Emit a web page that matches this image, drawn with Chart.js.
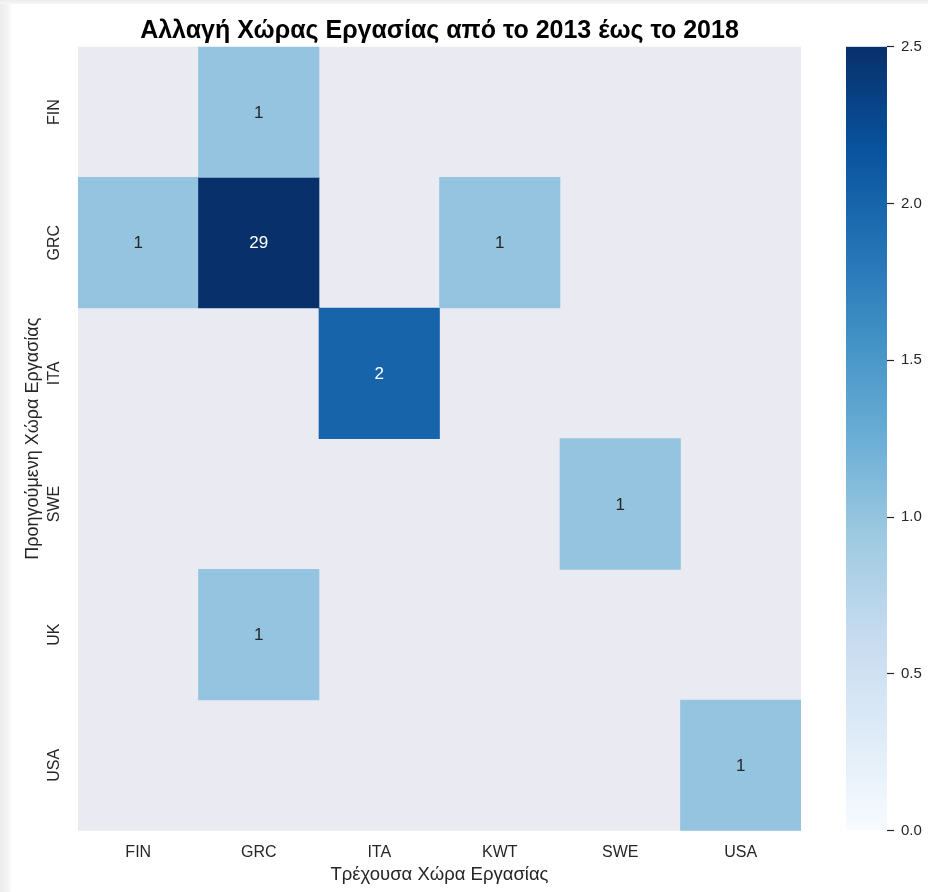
<!DOCTYPE html>
<html>
<head>
<meta charset="utf-8">
<script src="https://cdn.jsdelivr.net/npm/chart.js@4"></script>
<style>
  html, body { margin: 0; padding: 0; background: #ffffff; }
  #wrap { position: relative; width: 928px; height: 892px; overflow: hidden; background: #ffffff; }
  #main { position: absolute; left: 0; top: 0; }
  #cbar { position: absolute; left: 820px; top: 0; }
  #shadeL { position: absolute; left: 0; top: 0; width: 11px; height: 892px;
            background: linear-gradient(to right, #ececec, #f3f3f3 60%, #fbfbfb); }
  #shadeT { position: absolute; left: 0; top: 0; width: 928px; height: 4px;
            background: linear-gradient(to bottom, #ececec, #f7f7f7); }
</style>
</head>
<body>
<div id="wrap">
  <canvas id="main" width="928" height="892"></canvas>
  <canvas id="cbar" width="108" height="892"></canvas>
  <div id="shadeL"></div>
  <div id="shadeT"></div>
</div>
<script>
// ---- data ----
const titleText = 'Αλλαγή Χώρας Εργασίας από το 2013 έως το 2018';
const xTitle = 'Τρέχουσα Χώρα Εργασίας';
const yTitle = 'Προηγούμενη Χώρα Εργασίας';
const currentCountries = ['FIN', 'GRC', 'ITA', 'KWT', 'SWE', 'USA'];   // columns
const previousCountries = ['FIN', 'GRC', 'ITA', 'SWE', 'UK', 'USA'];   // rows
const rowFIN = [0, 1, 0, 0, 0, 0];
const rowGRC = [1, 29, 0, 1, 0, 0];
const rowITA = [0, 0, 2, 0, 0, 0];
const rowSWE = [0, 0, 0, 0, 1, 0];
const rowUK  = [0, 1, 0, 0, 0, 0];
const rowUSA = [0, 0, 0, 0, 0, 1];
const rows = [rowFIN, rowGRC, rowITA, rowSWE, rowUK, rowUSA];
const vmin = 0, vmax = 2.5;
const cbarTicks = [0, 0.5, 1, 1.5, 2, 2.5];

// Blues colormap stops
const bluesStops = ['#f7fbff','#deebf7','#c6dbef','#9ecae1','#6baed6','#4292c6','#2171b5','#08519c','#08306b'];
function hex2rgb(h){ return [parseInt(h.substr(1,2),16),parseInt(h.substr(3,2),16),parseInt(h.substr(5,2),16)]; }
function blues(t){
  t = Math.max(0, Math.min(1, t));
  const n = bluesStops.length - 1;
  const p = t * n; const i = Math.min(n - 1, Math.floor(p)); const f = p - i;
  const a = hex2rgb(bluesStops[i]), b = hex2rgb(bluesStops[i+1]);
  const c = a.map((v,k)=>Math.round(v + (b[k]-v)*f));
  return 'rgb(' + c.join(',') + ')';
}
function norm(v){ return (v - vmin) / (vmax - vmin); }

const FONT = "'Liberation Sans', Arial, Helvetica, sans-serif";
const TXT = '#262626';
const TOP = 46.7, BOTTOM_H = 61.3;

const datasets = rows.map((vals, r) => ({
  label: previousCountries[r],
  data: vals.map(v => v > 0 ? [r, r + 1] : null),
  values: vals,
  backgroundColor: vals.map(v => v > 0 ? blues(norm(v)) : 'rgba(0,0,0,0)'),
  borderWidth: 0,
  grouped: false,
  barPercentage: 1.0,
  categoryPercentage: 1.0
}));

const bgPlugin = {
  id: 'bg',
  beforeDatasetsDraw(chart) {
    const {ctx, chartArea: a} = chart;
    ctx.save();
    ctx.fillStyle = '#eaeaf2';
    ctx.fillRect(a.left, a.top, a.right - a.left, a.bottom - a.top);
    ctx.restore();
  }
};

const annotPlugin = {
  id: 'annot',
  afterDatasetsDraw(chart) {
    const {ctx} = chart;
    ctx.save();
    ctx.font = '17px ' + FONT;
    ctx.textAlign = 'center';
    ctx.textBaseline = 'middle';
    chart.data.datasets.forEach((ds, di) => {
      const meta = chart.getDatasetMeta(di);
      meta.data.forEach((el, i) => {
        const v = ds.values[i];
        if (!(v > 0)) return;
        const cx = el.x;
        const cy = (el.y + el.base) / 2 + 1;
        ctx.fillStyle = norm(v) > 0.6 ? '#ffffff' : TXT;
        ctx.fillText(String(v), cx, cy);
      });
    });
    ctx.restore();
  }
};

const titlePlugin = {
  id: 'maintitle',
  afterDraw(chart) {
    const {ctx, chartArea: a} = chart;
    ctx.save();
    ctx.font = 'bold 25px ' + FONT;
    ctx.fillStyle = '#000000';
    ctx.textAlign = 'center';
    ctx.textBaseline = 'middle';
    ctx.fillText(titleText, (a.left + a.right) / 2, 31);
    ctx.restore();
  }
};

new Chart(document.getElementById('main'), {
  type: 'bar',
  data: { labels: currentCountries, datasets },
  options: {
    responsive: false,
    animation: false,
    events: [],
    layout: { padding: { left: 0, top: TOP, right: 127, bottom: 0 } },
    plugins: { legend: { display: false }, tooltip: { enabled: false }, title: { display: false } },
    scales: {
      x: {
        type: 'category',
        offset: true,
        grid: { display: false, drawTicks: false },
        border: { display: false },
        ticks: { color: TXT, font: { family: FONT, size: 16 }, padding: 12, maxRotation: 0 },
        title: { display: true, text: xTitle, color: TXT, font: { family: FONT, size: 18.5 }, padding: { top: 0, bottom: 6 } },
        afterFit(s) { s.height = BOTTOM_H; }
      },
      y: {
        type: 'linear',
        min: 0, max: previousCountries.length,
        reverse: true,
        grid: { display: false, drawTicks: false },
        border: { display: false },
        afterBuildTicks(s) { s.ticks = previousCountries.map((_, i) => ({ value: i + 0.5 })); },
        ticks: {
          color: TXT, font: { family: FONT, size: 16 },
          minRotation: 90, maxRotation: 90,
          crossAlign: 'center', padding: 5.5,
          callback: (v) => previousCountries[Math.floor(v)]
        },
        title: { display: true, text: yTitle, color: TXT, font: { family: FONT, size: 18 }, padding: { top: 22, bottom: 0 } },
        afterFit(s) { s.width = 78; }
      }
    }
  },
  plugins: [bgPlugin, annotPlugin, titlePlugin]
});

// ---- colorbar ----
new Chart(document.getElementById('cbar'), {
  type: 'bar',
  data: {
    labels: ['cb'],
    datasets: [{
      data: [[vmin, vmax]],
      borderWidth: 0,
      barPercentage: 1.0,
      categoryPercentage: 1.0,
      backgroundColor(context) {
        const a = context.chart.chartArea;
        if (!a) return null;
        const g = context.chart.ctx.createLinearGradient(0, a.bottom, 0, a.top);
        for (let i = 0; i < bluesStops.length; i++) g.addColorStop(i / (bluesStops.length - 1), bluesStops[i]);
        return g;
      }
    }]
  },
  options: {
    responsive: false,
    animation: false,
    events: [],
    layout: { padding: { left: 26, top: TOP, right: 0, bottom: BOTTOM_H } },
    plugins: { legend: { display: false }, tooltip: { enabled: false } },
    scales: {
      x: { display: false, offset: true },
      y: {
        position: 'right',
        min: vmin, max: vmax,
        afterBuildTicks(s) { s.ticks = cbarTicks.map(v => ({ value: v })); },
        grid: { drawOnChartArea: false, drawTicks: true, tickLength: 7, tickColor: TXT, tickWidth: 1.2 },
        border: { display: false },
        ticks: { color: TXT, font: { family: FONT, size: 15 }, padding: 7, callback: (v) => v.toFixed(1) },
        afterFit(s) { s.width = 41; }
      }
    }
  }
});
</script>
</body>
</html>
